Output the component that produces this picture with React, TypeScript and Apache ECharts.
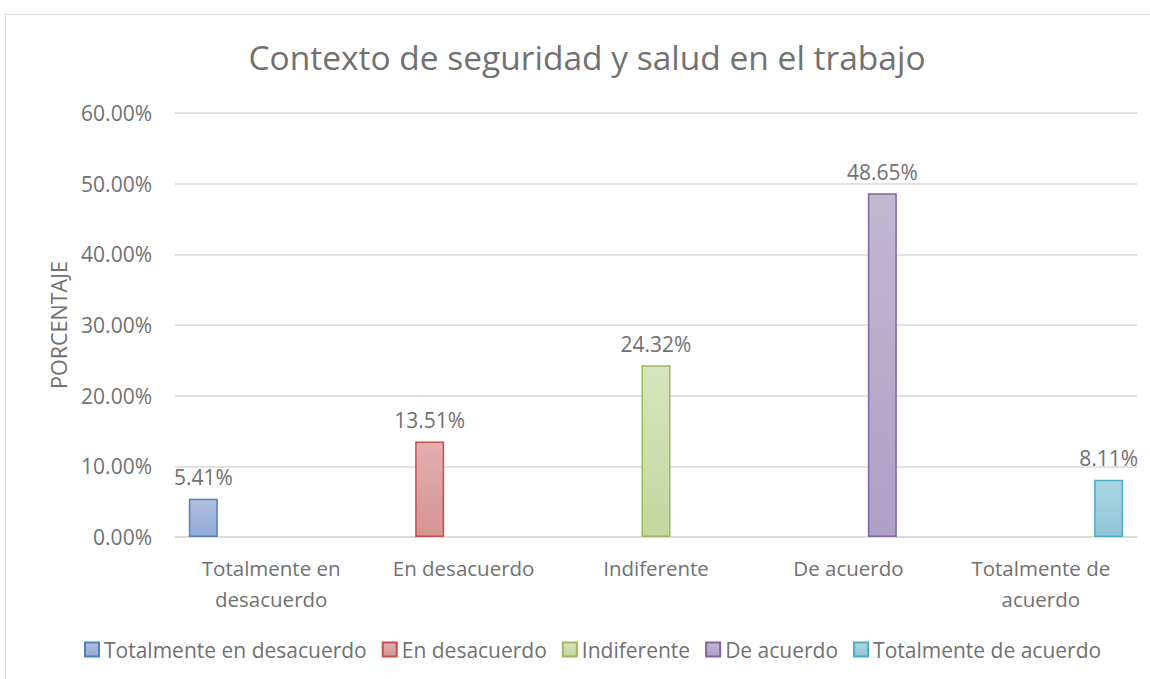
import React, { useEffect, useRef } from "react";
import * as echarts from "echarts";

const categories = [
  "Totalmente en\ndesacuerdo",
  "En desacuerdo",
  "Indiferente",
  "De acuerdo",
  "Totalmente de\nacuerdo",
];
const seriesNames = [
  "Totalmente en desacuerdo",
  "En desacuerdo",
  "Indiferente",
  "De acuerdo",
  "Totalmente de acuerdo",
];
const values = [5.41, 13.51, 24.32, 48.65, 8.11];
const borderColors = ["#4f81bd", "#c0504d", "#9bbb59", "#8064a2", "#4bacc6"];
const topColors = ["#b0c0e2", "#e2b0af", "#d7e5c0", "#c1b8d1", "#acd4e2"];
const bottomColors = ["#93aad6", "#d49391", "#c3d79e", "#ad9fc6", "#90c6d8"];
const yTicks = { min: 0, max: 60, interval: 10 };

const FONT = "Open Sans";
const GRAY = "#717171";

export default function App() {
  const ref = useRef<HTMLDivElement>(null);
  useEffect(() => {
    if (!ref.current) return;
    const chart = echarts.init(ref.current, undefined, { renderer: "svg" });
    const series = seriesNames.map((name, i) => ({
      name,
      type: "bar",
      barWidth: 29,
      barGap: "17%",
      data: categories.map((_, j) => (j === i ? values[i] : "-")),
      itemStyle: {
        color: new echarts.graphic.LinearGradient(0, 0, 0, 1, [
          { offset: 0, color: topColors[i] },
          { offset: 1, color: bottomColors[i] },
        ]),
        borderColor: borderColors[i],
        borderWidth: 1.5,
      },
      label: {
        show: true,
        position: "top",
        distance: 11,
        fontFamily: FONT,
        fontSize: 21,
        color: GRAY,
        formatter: (p: any) => Number(p.value).toFixed(2) + "%",
      },
    }));
    chart.setOption({
      animation: false,
      backgroundColor: "#ffffff",
      title: {
        text: "Contexto de seguridad y salud en el trabajo",
        left: 582,
        textAlign: "center",
        top: 35,
        textStyle: {
          fontFamily: FONT,
          fontSize: 33.5,
          fontWeight: "normal",
          color: GRAY,
        },
      },
      graphic: [
        {
          type: "rect",
          shape: { x: 5.5, y: 14.5, width: 1160, height: 700 },
          style: { fill: "none", stroke: "#d9d9d9", lineWidth: 1 },
          silent: true,
        },
      ],
      legend: {
        top: 634,
        left: 79,
        icon: "rect",
        itemWidth: 14,
        itemHeight: 14,
        itemGap: 15,
        textStyle: { fontFamily: FONT, fontSize: 21, color: GRAY, padding: [0, 0, 0, 0] },
        data: seriesNames,
      },
      grid: { left: 175, right: 13, top: 113, bottom: 142, containLabel: false },
      xAxis: {
        type: "category",
        data: categories,
        axisLine: { lineStyle: { color: "#d9d9d9", width: 1.5 } },
        axisTick: { show: false },
        axisLabel: {
          fontFamily: FONT,
          fontSize: 20.5,
          color: GRAY,
          lineHeight: 31,
          margin: 15,
          interval: 0,
        },
      },
      yAxis: {
        type: "value",
        min: yTicks.min,
        max: yTicks.max,
        interval: yTicks.interval,
        name: "PORCENTAJE",
        nameLocation: "middle",
        nameRotate: 90,
        nameGap: 106,
        nameTextStyle: { fontFamily: FONT, fontSize: 21.5, color: GRAY },
        axisLine: { show: false },
        axisTick: { show: false },
        splitLine: { lineStyle: { color: "#d9d9d9", width: 1.5 } },
        axisLabel: {
          fontFamily: FONT,
          fontSize: 21,
          color: GRAY,
          margin: 23,
          formatter: (v: number) => v.toFixed(2) + "%",
        },
      },
      series,
    } as any);
    return () => chart.dispose();
  }, []);
  return (
    <div
      ref={ref}
      style={{ position: "fixed", left: 0, top: 0, width: 1150, height: 679 }}
    />
  );
}
